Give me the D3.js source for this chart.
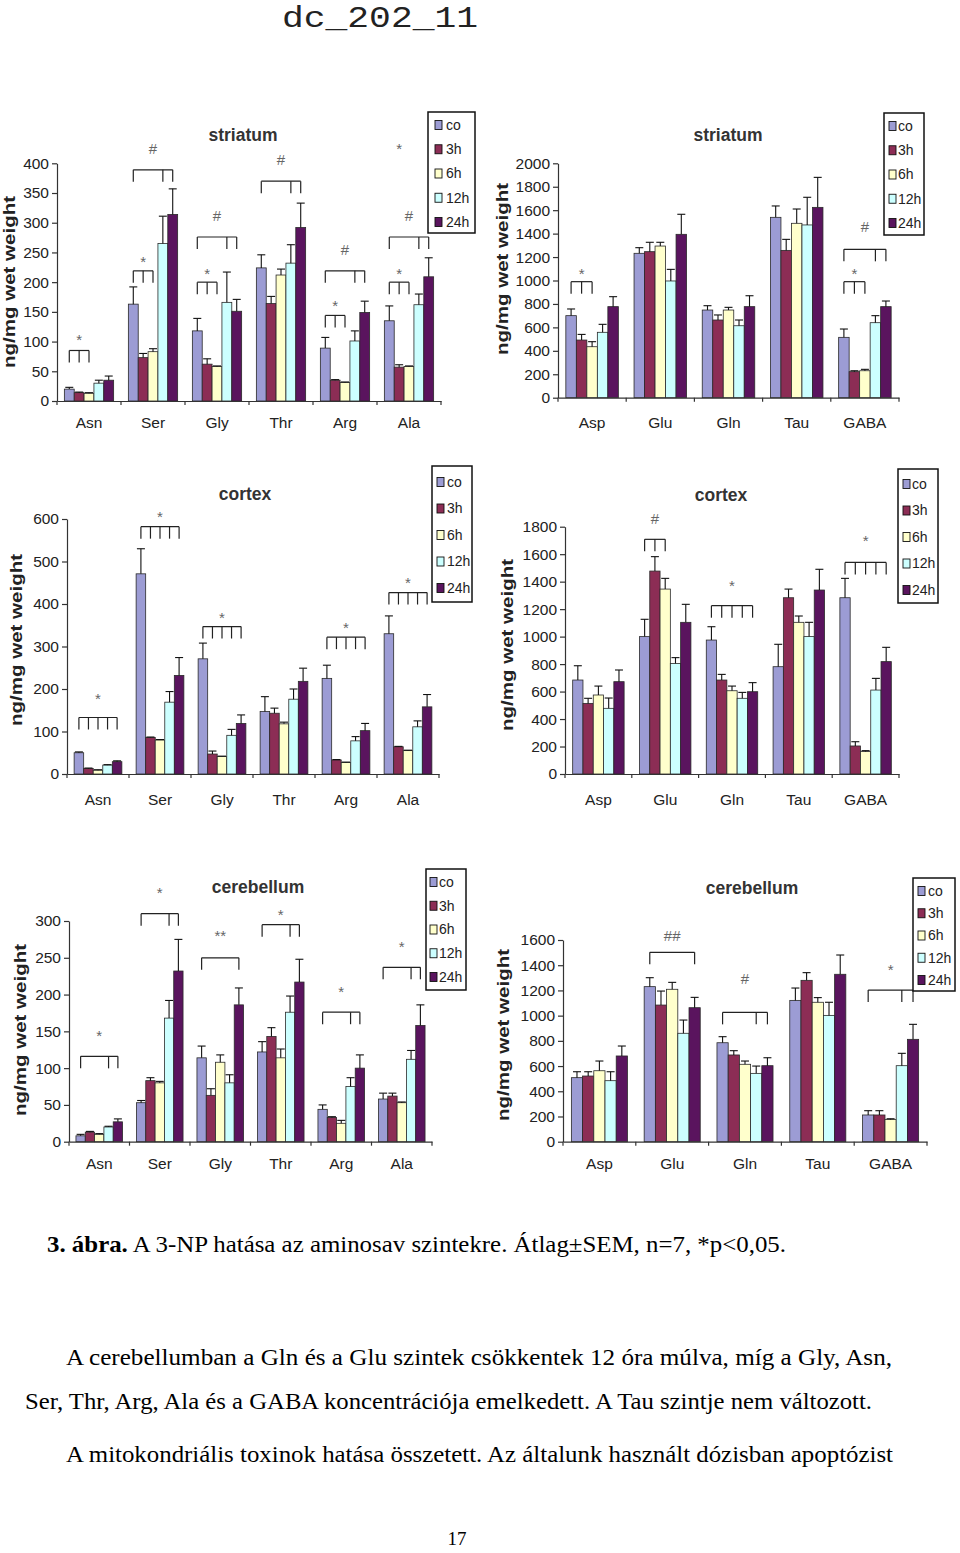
<!DOCTYPE html>
<html><head><meta charset="utf-8">
<script src="https://cdn.jsdelivr.net/npm/d3@7"></script>
<style>body{margin:0;background:#fff} svg{display:block}</style>
</head><body>
<svg id="c" width="960" height="1553"></svg>
<script>
// ---------- DATA ----------
const seriesNames = ["co","3h","6h","12h","24h"];
const seriesColors = ["#9c9cd4","#8c2d55","#ffffcc","#ccffff","#5a145e"];
const aminoA = ["Asn","Ser","Gly","Thr","Arg","Ala"];
const aminoB = ["Asp","Glu","Gln","Tau","GABA"];

const ticksStriatumA = [0,50,100,150,200,250,300,350,400];
const ticksStriatumB = [0,200,400,600,800,1000,1200,1400,1600,1800,2000];
const ticksCortexA = [0,100,200,300,400,500,600];
const ticksCortexB = [0,200,400,600,800,1000,1200,1400,1600,1800];
const ticksCerebA = [0,50,100,150,200,250,300];
const ticksCerebB = [0,200,400,600,800,1000,1200,1400,1600];

// means [category][series]
const striatumA_mean = [[20,14,13,30,35],[163,73,83,265,314],[118,62,58,166,151],[224,164,212,232,292],[89,35,31,101,149],[135,57,58,162,209]];
const striatumA_sem  = [[3,1,1,5,7],[29,7,5,46,43],[21,9,1,51,20],[22,12,10,31,41],[18,1,1,17,19],[25,4,1,18,32]];
const striatumB_mean = [[700,492,435,558,777],[1232,1246,1294,996,1394],[748,663,748,614,777],[1539,1257,1488,1474,1624],[515,222,230,640,777]];
const striatumB_sem  = [[57,48,43,68,85],[48,80,32,99,171],[37,43,23,49,93],[97,94,122,236,256],[71,8,12,60,48]];
const cortexA_mean = [[50,13,9,21,29],[471,86,80,169,232],[271,47,41,91,119],[147,143,118,176,218],[225,33,27,78,102],[330,64,55,111,158]];
const cortexA_sem  = [[2,1,1,1,2],[59,1,1,25,42],[37,7,1,14,20],[35,12,4,24,31],[31,1,1,10,17],[42,1,1,14,29]];
const cortexB_mean = [[684,514,575,478,672],[1000,1477,1346,805,1104],[975,684,606,551,599],[781,1283,1104,1000,1339],[1283,204,163,611,818]];
const cortexB_sem  = [[104,37,65,75,85],[126,105,78,42,131],[97,41,34,43,66],[163,63,46,104,151],[141,31,7,85,104]];
const cerebA_mean = [[8,13,10,20,27],[53,83,80,168,232],[114,63,108,80,186],[122,143,114,176,217],[44,33,25,75,100],[58,62,53,112,158]];
const cerebA_sem  = [[2,1,1,1,4],[3,4,2,24,43],[16,9,10,11,23],[14,12,12,22,31],[6,1,4,12,18],[8,4,1,12,28]];
const cerebB_mean = [[508,521,563,484,680],[1230,1084,1209,860,1063],[785,688,614,542,603],[1121,1280,1106,1002,1328],[212,212,177,603,812]];
const cerebB_sem  = [[47,34,77,71,79],[71,111,55,105,82],[48,34,26,58,63],[98,61,37,104,153],[34,34,5,98,119]];

// significance brackets: category index, bar indices, line level, label, label level
const striatumA_sig = [
  {c:0,b:[0,1,2],y:85,t:"*",ly:109},{c:1,b:[0,1,2],y:219,t:"*",ly:240},{c:1,b:[0,3,4],y:389,t:"#",ly:424},
  {c:2,b:[0,1,2],y:200,t:"*",ly:220},{c:2,b:[0,3,4],y:276,t:"#",ly:311},{c:3,b:[0,3,4],y:370,t:"#",ly:406},
  {c:4,b:[0,1,2],y:144,t:"*",ly:167},{c:4,b:[0,3,4],y:219,t:"#",ly:254},{c:5,b:[0,1,2],y:200,t:"*",ly:220},
  {c:5,b:[0,3,4],y:276,t:"#",ly:311},{c:5,b:[1],y:null,t:"*",ly:430}];
const striatumB_sig = [{c:0,b:[0,1,2],y:990,t:"*",ly:1090},{c:4,b:[0,1,2],y:990,t:"*",ly:1090},{c:4,b:[0,3,4],y:1266,t:"#",ly:1460}];
const cortexA_sig = [{c:0,b:[0,1,2,3,4],y:133,t:"*",ly:187},{c:1,b:[0,1,2,3,4],y:582,t:"*",ly:613},{c:2,b:[0,1,2,3,4],y:347,t:"*",ly:376},
  {c:4,b:[0,1,2,3,4],y:322,t:"*",ly:353},{c:5,b:[0,1,2,3,4],y:427,t:"*",ly:459}];
const cortexB_sig = [{c:1,b:[0,1,2],y:1708,t:"#",ly:1861},{c:2,b:[0,1,2,3,4],y:1225,t:"*",ly:1395},{c:4,b:[0,1,2,3,4],y:1540,t:"*",ly:1722}];
const cerebA_sig = [{c:0,b:[0,3,4],y:116,t:"*",ly:149},{c:1,b:[0,3,4],y:310,t:"*",ly:344},{c:2,b:[0,4],y:250,t:"**",ly:285},
  {c:3,b:[0,3,4],y:295,t:"*",ly:314},{c:4,b:[0,3,4],y:176,t:"*",ly:209},{c:5,b:[0,3,4],y:237,t:"*",ly:270}];
const cerebB_sig = [{c:1,b:[0,4],y:1502,t:"##",ly:1632},{c:2,b:[0,3,4],y:1026,t:"#",ly:1291},{c:4,b:[0,3,4],y:1203,t:"*",ly:1394}];

const titles = ["striatum","striatum","cortex","cortex","cerebellum","cerebellum"];
const yLabel = "ng/mg wet weight";
const headerText = "dc_202_11";
const captionBold = "3. ábra.";
const captionRest = " A 3-NP hatása az aminosav szintekre. Átlag±SEM, n=7, *p<0,05.";
const paraLines = [
  "A cerebellumban a Gln és a Glu szintek csökkentek 12 óra múlva, míg a Gly, Asn,",
  "Ser, Thr, Arg, Ala és a GABA koncentrációja emelkedett. A Tau szintje nem változott.",
  "A mitokondriális toxinok hatása összetett. Az általunk használt dózisban apoptózist"];
const pageNumber = "17";

// ---------- LAYOUT ----------
const svg = d3.select("#c");
const SANS = "'Liberation Sans', Arial, sans-serif";
const SERIF = "'Liberation Serif', 'Times New Roman', serif";

const panels = [
  {cats:aminoA, mean:striatumA_mean, sem:striatumA_sem, sig:striatumA_sig, ticks:ticksStriatumA, title:titles[0],
   x0:57, x1:441, y0:401, yTop:163.3, tx:243, ty:135, labPad:15.5, ylx:9, yly:282,
   leg:{x:428,y:112,w:47,h:121,sx:435,tx:446,first:125,step:24.25}},
  {cats:aminoB, mean:striatumB_mean, sem:striatumB_sem, sig:striatumB_sig, ticks:ticksStriatumB, title:titles[1],
   x0:558, x1:899, y0:397.7, yTop:163.3, tx:728, ty:135, labPad:19, ylx:502, yly:269,
   leg:{x:884,y:113,w:40,h:122,sx:889,tx:898,first:126,step:24.25}},
  {cats:aminoA, mean:cortexA_mean, sem:cortexA_sem, sig:cortexA_sig, ticks:ticksCortexA, title:titles[2],
   x0:67, x1:439, y0:774, yTop:519, tx:245, ty:494, labPad:19.5, ylx:16, yly:640,
   leg:{x:432,y:466,w:40,h:136,sx:437,tx:447,first:482,step:26.5}},
  {cats:aminoB, mean:cortexB_mean, sem:cortexB_sem, sig:cortexB_sig, ticks:ticksCortexB, title:titles[3],
   x0:565, x1:899, y0:774, yTop:526.7, tx:721, ty:495, labPad:19.5, ylx:507, yly:645,
   leg:{x:898,y:469,w:40,h:134,sx:903,tx:912,first:484,step:26.5}},
  {cats:aminoA, mean:cerebA_mean, sem:cerebA_sem, sig:cerebA_sig, ticks:ticksCerebA, title:titles[4],
   x0:69, x1:432, y0:1141.7, yTop:921, tx:258, ty:887, labPad:16, ylx:20, yly:1030,
   leg:{x:426,y:869,w:40,h:121,sx:430,tx:439,first:882,step:23.75}},
  {cats:aminoB, mean:cerebB_mean, sem:cerebB_sem, sig:cerebB_sig, ticks:ticksCerebB, title:titles[5],
   x0:563, x1:927, y0:1141.7, yTop:940, tx:752, ty:888, labPad:16, ylx:503, yly:1035,
   leg:{x:913,y:878,w:42,h:113,sx:918,tx:928,first:891,step:22.25}}
];

function drawPanel(p) {
  const g = svg.append("g");
  const x = d3.scaleBand().domain(p.cats).range([p.x0, p.x1]);
  const bw = x.bandwidth();
  const xs = d3.scaleBand().domain(seriesNames).range([bw*0.115, bw*0.885]);
  const ymax = p.ticks[p.ticks.length-1];
  const y = d3.scaleLinear().domain([0, ymax]).range([p.y0, p.yTop]);

  const recs = [];
  p.cats.forEach((c,ci)=>seriesNames.forEach((s,si)=>recs.push({c, s, si, v:p.mean[ci][si], e:p.sem[ci][si]})));

  // bars
  g.append("g").selectAll("rect").data(recs).join("rect")
    .attr("x", d=>x(d.c)+xs(d.s)).attr("width", xs.bandwidth())
    .attr("y", d=>y(d.v)).attr("height", d=>p.y0 - y(d.v))
    .attr("fill", d=>seriesColors[d.si]).attr("stroke","#2a2a2a").attr("stroke-width",0.8);

  // error bars
  const eg = g.append("g").attr("stroke","#111").attr("stroke-width",1.1);
  recs.forEach(d=>{
    const cx = x(d.c)+xs(d.s)+xs.bandwidth()/2;
    eg.append("line").attr("x1",cx).attr("x2",cx).attr("y1",y(d.v)).attr("y2",y(d.v+d.e));
    eg.append("line").attr("x1",cx-4).attr("x2",cx+4).attr("y1",y(d.v+d.e)).attr("y2",y(d.v+d.e));
  });

  // y axis
  const ya = g.append("g").attr("transform",`translate(${p.x0},0)`)
    .call(d3.axisLeft(y).tickValues(p.ticks).tickFormat(d3.format("d")).tickSize(5).tickSizeOuter(0).tickPadding(3));
  ya.selectAll("text").attr("font-size",15.5).attr("font-family",SANS).attr("fill","#222");
  ya.selectAll("line,path").attr("stroke","#333").attr("stroke-width",1.2);

  // x axis
  const xa = g.append("g").attr("transform",`translate(0,${p.y0})`)
    .call(d3.axisBottom(x).tickSize(0).tickSizeOuter(0).tickPadding(p.labPad));
  xa.selectAll("text").attr("font-size",15.5).attr("font-family",SANS).attr("fill","#222");
  xa.select("path").attr("stroke","#333").attr("stroke-width",1.2);
  const bounds = p.cats.map(c=>x(c)).concat([x(p.cats[p.cats.length-1])+bw]);
  g.append("g").selectAll("line").data(bounds).join("line")
    .attr("x1",d=>d).attr("x2",d=>d).attr("y1",p.y0).attr("y2",p.y0+4)
    .attr("stroke","#333").attr("stroke-width",1.2);

  // significance brackets
  const sg = g.append("g");
  p.sig.forEach(s=>{
    const cxs = s.b.map(i=>x(p.cats[s.c])+xs(seriesNames[i])+xs.bandwidth()/2);
    const xl = cxs[0], xr = cxs[cxs.length-1];
    if (s.y !== null) {
      const ly = y(s.y);
      sg.append("line").attr("x1",xl).attr("x2",xr).attr("y1",ly).attr("y2",ly).attr("stroke","#222").attr("stroke-width",1.2);
      cxs.forEach(cx=>sg.append("line").attr("x1",cx).attr("x2",cx).attr("y1",ly).attr("y2",ly+12).attr("stroke","#222").attr("stroke-width",1.2));
    }
    sg.append("text").attr("x",(xl+xr)/2).attr("y",y(s.ly)).attr("dy", s.t.includes("*")?"0.6em":"0.35em")
      .attr("text-anchor","middle").attr("font-family",SANS).attr("font-size",15).attr("fill","#666").text(s.t);
  });

  // title
  g.append("text").attr("x",p.tx).attr("y",p.ty).attr("dy","0.35em").attr("text-anchor","middle")
    .attr("font-family",SANS).attr("font-weight","bold").attr("font-size",17.5).attr("fill","#333").text(p.title);

  // y label
  g.append("text").attr("transform",`translate(${p.ylx},${p.yly}) rotate(-90)`).attr("dy","0.35em")
    .attr("text-anchor","middle").attr("font-family",SANS).attr("font-weight","bold").attr("font-size",17)
    .attr("textLength",172).attr("lengthAdjust","spacingAndGlyphs").attr("fill","#222").text(yLabel);

  // legend
  const L = p.leg;
  const lg = g.append("g");
  lg.append("rect").attr("x",L.x).attr("y",L.y).attr("width",L.w).attr("height",L.h)
    .attr("fill","#fff").attr("stroke","#111").attr("stroke-width",1.5);
  seriesNames.forEach((s,i)=>{
    const cy = L.first + i*L.step;
    lg.append("rect").attr("x",L.sx).attr("y",cy-4.5).attr("width",7).attr("height",9)
      .attr("fill",seriesColors[i]).attr("stroke","#111").attr("stroke-width",0.9);
    lg.append("text").attr("x",L.tx).attr("y",cy).attr("dy","0.35em").attr("font-family",SANS)
      .attr("font-size",14).attr("fill","#222").text(s);
  });
}
panels.forEach(drawPanel);

// header
svg.append("text").attr("x",282).attr("y",27).attr("font-family","'Liberation Mono', 'Courier New', monospace")
  .attr("font-size",29).attr("textLength",196).attr("lengthAdjust","spacingAndGlyphs").attr("fill","#222").text(headerText);

// caption
const cap = svg.append("text").attr("x",47).attr("y",1252).attr("font-family",SERIF).attr("font-size",24)
  .attr("textLength",739).attr("lengthAdjust","spacingAndGlyphs").attr("fill","#000");
cap.append("tspan").attr("font-weight","bold").text(captionBold);
cap.append("tspan").text(captionRest);

// paragraph
const paraX = [66,25,66], paraY = [1365,1408.5,1462], paraW = [826,847,827];
paraLines.forEach((t,i)=>{
  svg.append("text").attr("x",paraX[i]).attr("y",paraY[i]).attr("font-family",SERIF).attr("font-size",24)
    .attr("textLength",paraW[i]).attr("lengthAdjust","spacingAndGlyphs").attr("fill","#000").text(t);
});
svg.append("text").attr("x",457).attr("y",1545).attr("text-anchor","middle").attr("font-family",SERIF)
  .attr("font-size",19).attr("fill","#000").text(pageNumber);
</script>
</body></html>
